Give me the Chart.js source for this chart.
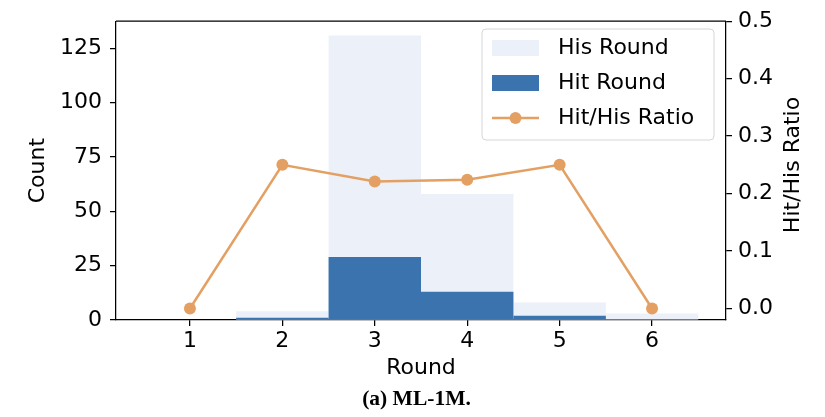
<!DOCTYPE html>
<html>
<head>
<meta charset="utf-8">
<script src="https://cdn.jsdelivr.net/npm/chart.js@4.4.0/dist/chart.umd.min.js"></script>
<style>
  body { margin: 0; background: #fff; }
  #wrap { position: relative; width: 825px; height: 417px; }
  #cap {
    position: absolute; left: 4px; width: 825px; top: 386px;
    text-align: center; font: bold 21.5px "Liberation Serif", serif; color: #000;
  }
</style>
</head>
<body>
<div id="wrap">
  <canvas id="chart" width="825" height="417"></canvas>
  <div id="cap">(a) ML-1M.</div>
</div>
<script>
// Values
const rounds = [1, 2, 3, 4, 5, 6];
const hisRound = [0, 4, 131, 58, 8, 3];
const hitRound = [0, 1, 29, 13, 2, 0];
const hitHisRatio = [0, 0.25, 0.221, 0.224, 0.25, 0];

// Tick labels
const countTicks = [0, 25, 50, 75, 100, 125];
const ratioTicks = [0, 0.1, 0.2, 0.3, 0.4, 0.5];

const HIS_COLOR = "#ecf0f8";
const HIT_COLOR = "#3a73ad";
const LINE_COLOR = "#e3a062";
const FONT = "'DejaVu Sans', sans-serif";

function pts(ys) {
    return rounds.map((r, i) => ({ x: r, y: ys[i] }));
}

// top spine, right title (reads bottom-up) and the legend box
const extras = {
    id: "extras",
    afterDraw(chart) {
        const ctx = chart.ctx;
        const a = chart.chartArea;
        ctx.save();
        ctx.strokeStyle = "#000";
        ctx.lineWidth = 1.25;
        ctx.beginPath();
        ctx.moveTo(a.left, a.top);
        ctx.lineTo(a.right, a.top);
        ctx.stroke();

        ctx.fillStyle = "#000";
        ctx.font = "22px " + FONT;
        ctx.textAlign = "center";
        ctx.textBaseline = "middle";
        ctx.translate(793, 165);
        ctx.rotate(-Math.PI / 2);
        ctx.fillText("Hit/His Ratio", 0, 0);
        ctx.restore();

        // legend
        ctx.save();
        const bx = 482, by = 29, bw = 232, bh = 111;
        ctx.beginPath();
        ctx.roundRect(bx, by, bw, bh, 4);
        ctx.fillStyle = "rgba(255,255,255,0.8)";
        ctx.fill();
        ctx.strokeStyle = "#d6d6d6";
        ctx.lineWidth = 1;
        ctx.stroke();

        const ds = chart.data.datasets;
        ctx.fillStyle = HIS_COLOR;
        ctx.fillRect(492, 40, 47, 16);
        ctx.fillStyle = HIT_COLOR;
        ctx.fillRect(492, 75, 47, 16);
        ctx.strokeStyle = LINE_COLOR;
        ctx.lineWidth = 2.5;
        ctx.beginPath();
        ctx.moveTo(492, 118);
        ctx.lineTo(539, 118);
        ctx.stroke();
        ctx.fillStyle = LINE_COLOR;
        ctx.beginPath();
        ctx.arc(515.5, 118, 6, 0, Math.PI * 2);
        ctx.fill();

        ctx.fillStyle = "#000";
        ctx.font = "22px " + FONT;
        ctx.textAlign = "left";
        ctx.textBaseline = "middle";
        ctx.fillText(ds[2].label, 558, 48);
        ctx.fillText(ds[1].label, 558, 83);
        ctx.fillText(ds[0].label, 558, 118);
        ctx.restore();
    }
};

const axisGrid = { display: true, drawOnChartArea: false, drawTicks: true, tickLength: 6, color: "#000", lineWidth: 1.25, offset: false };
const axisBorder = { display: true, color: "#000", width: 1.25 };
const tickFont = { family: FONT, size: 22 };

new Chart(document.getElementById("chart"), {
    type: "bar",
    data: {
        datasets: [
            {
                type: "line",
                label: "Hit/His Ratio",
                data: pts(hitHisRatio),
                yAxisID: "y2",
                borderColor: LINE_COLOR,
                backgroundColor: LINE_COLOR,
                borderWidth: 2.5,
                pointRadius: 6,
                pointBorderWidth: 0,
                tension: 0,
                order: 1
            },
            {
                label: "Hit Round",
                data: pts(hitRound),
                yAxisID: "y",
                backgroundColor: HIT_COLOR,
                borderWidth: 0,
                inflateAmount: 0,
                grouped: false,
                barPercentage: 1,
                categoryPercentage: 1,
                order: 2
            },
            {
                label: "His Round",
                data: pts(hisRound),
                yAxisID: "y",
                backgroundColor: HIS_COLOR,
                borderWidth: 0,
                inflateAmount: 0,
                grouped: false,
                barPercentage: 1,
                categoryPercentage: 1,
                order: 3
            }
        ]
    },
    options: {
        responsive: false,
        animation: false,
        devicePixelRatio: 1,
        events: [],
        layout: { padding: { top: 17, left: 0, right: 0, bottom: 0 } },
        plugins: {
            legend: { display: false },
            tooltip: { enabled: false }
        },
        scales: {
            x: {
                type: "linear",
                position: "bottom",
                offset: false,
                min: 0.2,
                max: 6.8,
                afterBuildTicks: s => { s.ticks = rounds.map(v => ({ value: v })); },
                afterFit: s => { s.height = 97; },
                grid: axisGrid,
                border: axisBorder,
                ticks: { font: tickFont, color: "#000", padding: 2, callback: v => String(v) },
                title: { display: true, text: "Round", font: tickFont, color: "#000", padding: { top: 0, bottom: 36 } }
            },
            y: {
                position: "left",
                min: 0,
                max: 137.55,
                afterBuildTicks: s => { s.ticks = countTicks.map(v => ({ value: v })); },
                afterFit: s => { s.width = 116; },
                grid: axisGrid,
                border: axisBorder,
                ticks: { font: tickFont, color: "#000", padding: 8, callback: v => String(v) },
                title: { display: true, text: "Count", font: tickFont, color: "#000", padding: { top: 25, bottom: 0 } }
            },
            y2: {
                position: "right",
                min: -0.02,
                max: 0.5,
                afterBuildTicks: s => { s.ticks = ratioTicks.map(v => ({ value: v })); },
                afterFit: s => { s.width = 99; },
                grid: axisGrid,
                border: axisBorder,
                ticks: { font: tickFont, color: "#000", padding: 6, callback: v => v.toFixed(1) }
            }
        }
    },
    plugins: [extras]
});
</script>
</body>
</html>
